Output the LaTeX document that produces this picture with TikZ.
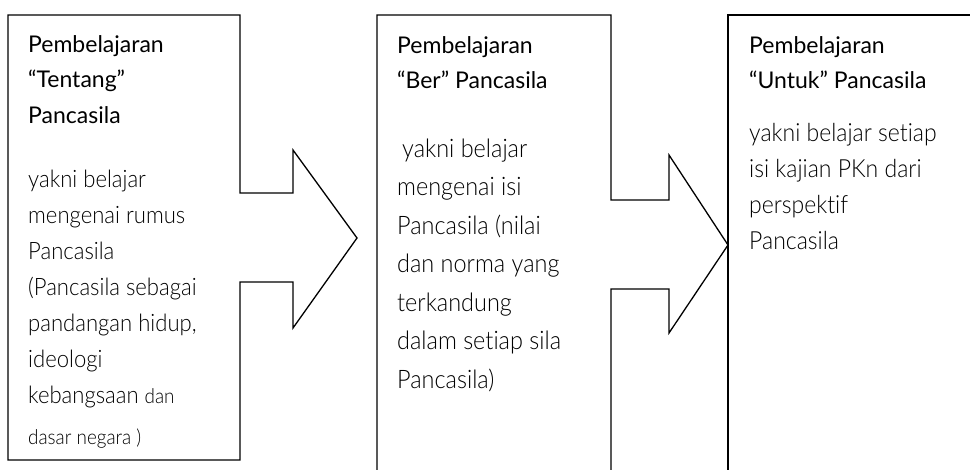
\documentclass[tikz,border=0pt]{standalone}
\usepackage{fontspec}
\setmainfont{Lato}[RawFeature={-liga}]
\newfontfamily\lightfont{Lato Light}[FakeStretch=0.92, RawFeature={-liga}]

\tikzset{
  outline/.style={draw=black, line width=1.3pt, line join=miter},
  head/.style={anchor=base west, inner sep=0pt,
    font=\fontsize{23}{35.5}\selectfont},
  body/.style={anchor=base west, inner sep=0pt, font=\lightfont},
}

\begin{document}
\begin{tikzpicture}[x=1pt, y=-1pt]
\useasboundingbox (0,0) rectangle (970,469);
\clip (0,0) rectangle (970,469);

% first box with its outgoing arrow
\draw[outline] (240,15) -- (240,193) -- (293,193) -- (293,150) -- (357,238)
  -- (293,328) -- (293,282) -- (240,282) -- (240,460) -- (8,460) -- (8,15) -- cycle;

% second box with its outgoing arrow (runs past the lower edge)
\draw[outline] (377,480) -- (377,15) -- (611,15) -- (611,200) -- (669,200)
  -- (669,155) -- (728,245) -- (669,333) -- (669,289) -- (611,289) -- (611,480);

% third box (runs past the right and lower edges)
\draw[outline] (728,480) -- (728,15) -- (980,15);

% texts of the first box
\node[head] (t1) at (28,52) {\parbox[t]{210pt}{Pembelajaran\\“Tentang”\\Pancasila}};
\node[body] (b1) at (28,187) {\fontsize{24}{36}\selectfont\parbox[t]{210pt}{yakni belajar\\mengenai rumus\\Pancasila\\(Pancasila sebagai\\pandangan hidup,\\ideologi\\kebangsaan {\fontsize{20.5}{36}\selectfont dan}\\[5pt]{\fontsize{20.5}{36}\selectfont dasar negara )}}};

% texts of the second box
\node[head] (t2) at (397,53) {\parbox[t]{210pt}{Pembelajaran\\“Ber” Pancasila}};
\node[body] (b2) at (397,157) {\fontsize{25.5}{38.5}\selectfont\parbox[t]{210pt}{\hspace{5pt}yakni belajar\\mengenai isi\\Pancasila (nilai\\dan norma yang\\terkandung\\dalam setiap sila\\Pancasila)}};

% texts of the third box
\node[head] (t3) at (749,53) {\parbox[t]{210pt}{Pembelajaran\\“Untuk” Pancasila}};
\node[body] (b3) at (749,141) {\fontsize{25}{36}\selectfont\parbox[t]{210pt}{yakni belajar setiap\\isi kajian PKn dari\\perspektif\\Pancasila}};
\end{tikzpicture}
\end{document}
